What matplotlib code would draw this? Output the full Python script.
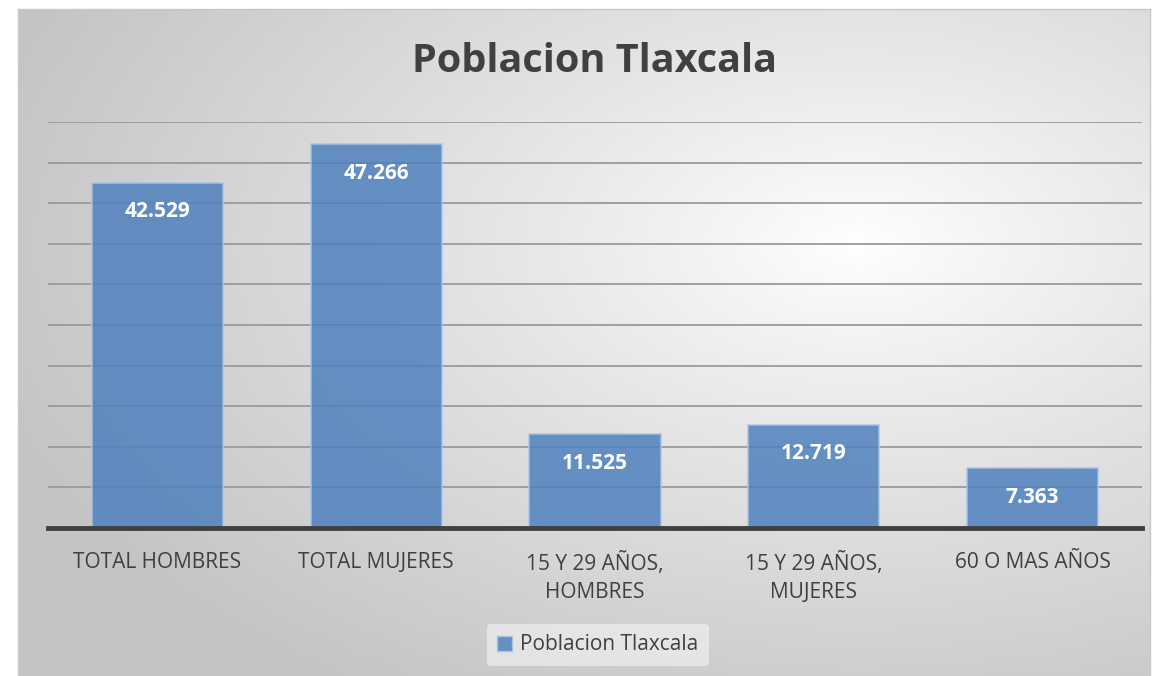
import numpy as np
import matplotlib
matplotlib.use("Agg")
import matplotlib.pyplot as plt
from matplotlib.patches import Patch

categorias = ["TOTAL HOMBRES", "TOTAL MUJERES", "15 Y 29 AÑOS,\nHOMBRES",
              "15 Y 29 AÑOS,\nMUJERES", "60 O MAS AÑOS"]
valores = [42529, 47266, 11525, 12719, 7363]
etiquetas = ["42.529", "47.266", "11.525", "12.719", "7.363"]
serie = "Poblacion Tlaxcala"

W, H = 1159, 676
fig = plt.figure(figsize=(W / 100, H / 100), dpi=100)
fig.patch.set_facecolor("white")
plt.rcParams["font.family"] = ["Open Sans", "DejaVu Sans"]

# fondo con degradado radial
bg = fig.add_axes([18 / W, 0, (1150 - 18) / W, (H - 9) / H])
yy, xx = np.mgrid[0:200, 0:340]
cx, cy = 0.74 * 340, 0.35 * 200
d = np.sqrt(((xx - cx) / 340) ** 2 + ((yy - cy) / 200) ** 2)
d = np.clip(d / 0.8, 0, 1)
g = 1.0 - 0.23 * d ** 0.9
bg.imshow(np.dstack([g, g, g]), aspect="auto", extent=[0, 1, 0, 1], origin="upper")
bg.set_xticks([]), bg.set_yticks([])
for s in bg.spines.values():
    s.set_color("#c8c8c8")
    s.set_linewidth(1)

ax = fig.add_axes([48 / W, (H - 528) / H, (1142 - 48) / W, (528 - 122) / H])
ax.patch.set_alpha(0)
x = np.arange(len(categorias))
ax.set_xlim(-0.5, len(categorias) - 0.5)
ax.set_ylim(0, 50000)
ax.set_yticks(np.arange(0, 50001, 5000))
ax.yaxis.grid(True, color="#9a9a9a", linewidth=1.3)
ax.set_axisbelow(True)
bars = ax.bar(x, valores, width=0.6, color="#4f81bd", alpha=0.85,
              edgecolor="#a9c4e6", linewidth=1.2, zorder=3)
ax.axhline(0, color="#404040", linewidth=3.5, zorder=4, clip_on=False)
for s in ax.spines.values():
    s.set_visible(False)
ax.tick_params(axis="y", left=False, labelleft=False)
ax.tick_params(axis="x", bottom=False, pad=14)
ax.set_xticks(x)
ax.set_xticklabels(categorias, fontsize=15, color="#404040", linespacing=1.4)

for b, t in zip(bars, etiquetas):
    ax.annotate(t, (b.get_x() + b.get_width() / 2, b.get_height()),
                xytext=(0, -21), textcoords="offset points", ha="center",
                va="center", color="white", fontsize=15, fontweight="bold",
                zorder=5)

fig.text(595 / W, 1 - 62 / H, serie, ha="center", va="center",
         fontsize=28.5, fontweight="bold", color="#404040")

leg = fig.legend(handles=[Patch(facecolor="#4f81bd", alpha=0.85,
                                edgecolor="#a9c4e6", label=serie)],
                 loc="center", bbox_to_anchor=(598 / W, 1 - 645 / H),
                 frameon=True, fontsize=15, handlelength=0.7,
                 handleheight=0.7, handletextpad=0.4, borderpad=0.5)
leg.get_frame().set_facecolor("#f4f4f4")
leg.get_frame().set_edgecolor("none")
leg.get_frame().set_alpha(0.6)
for t in leg.get_texts():
    t.set_color("#404040")

fig.savefig("out.png", dpi=100)
